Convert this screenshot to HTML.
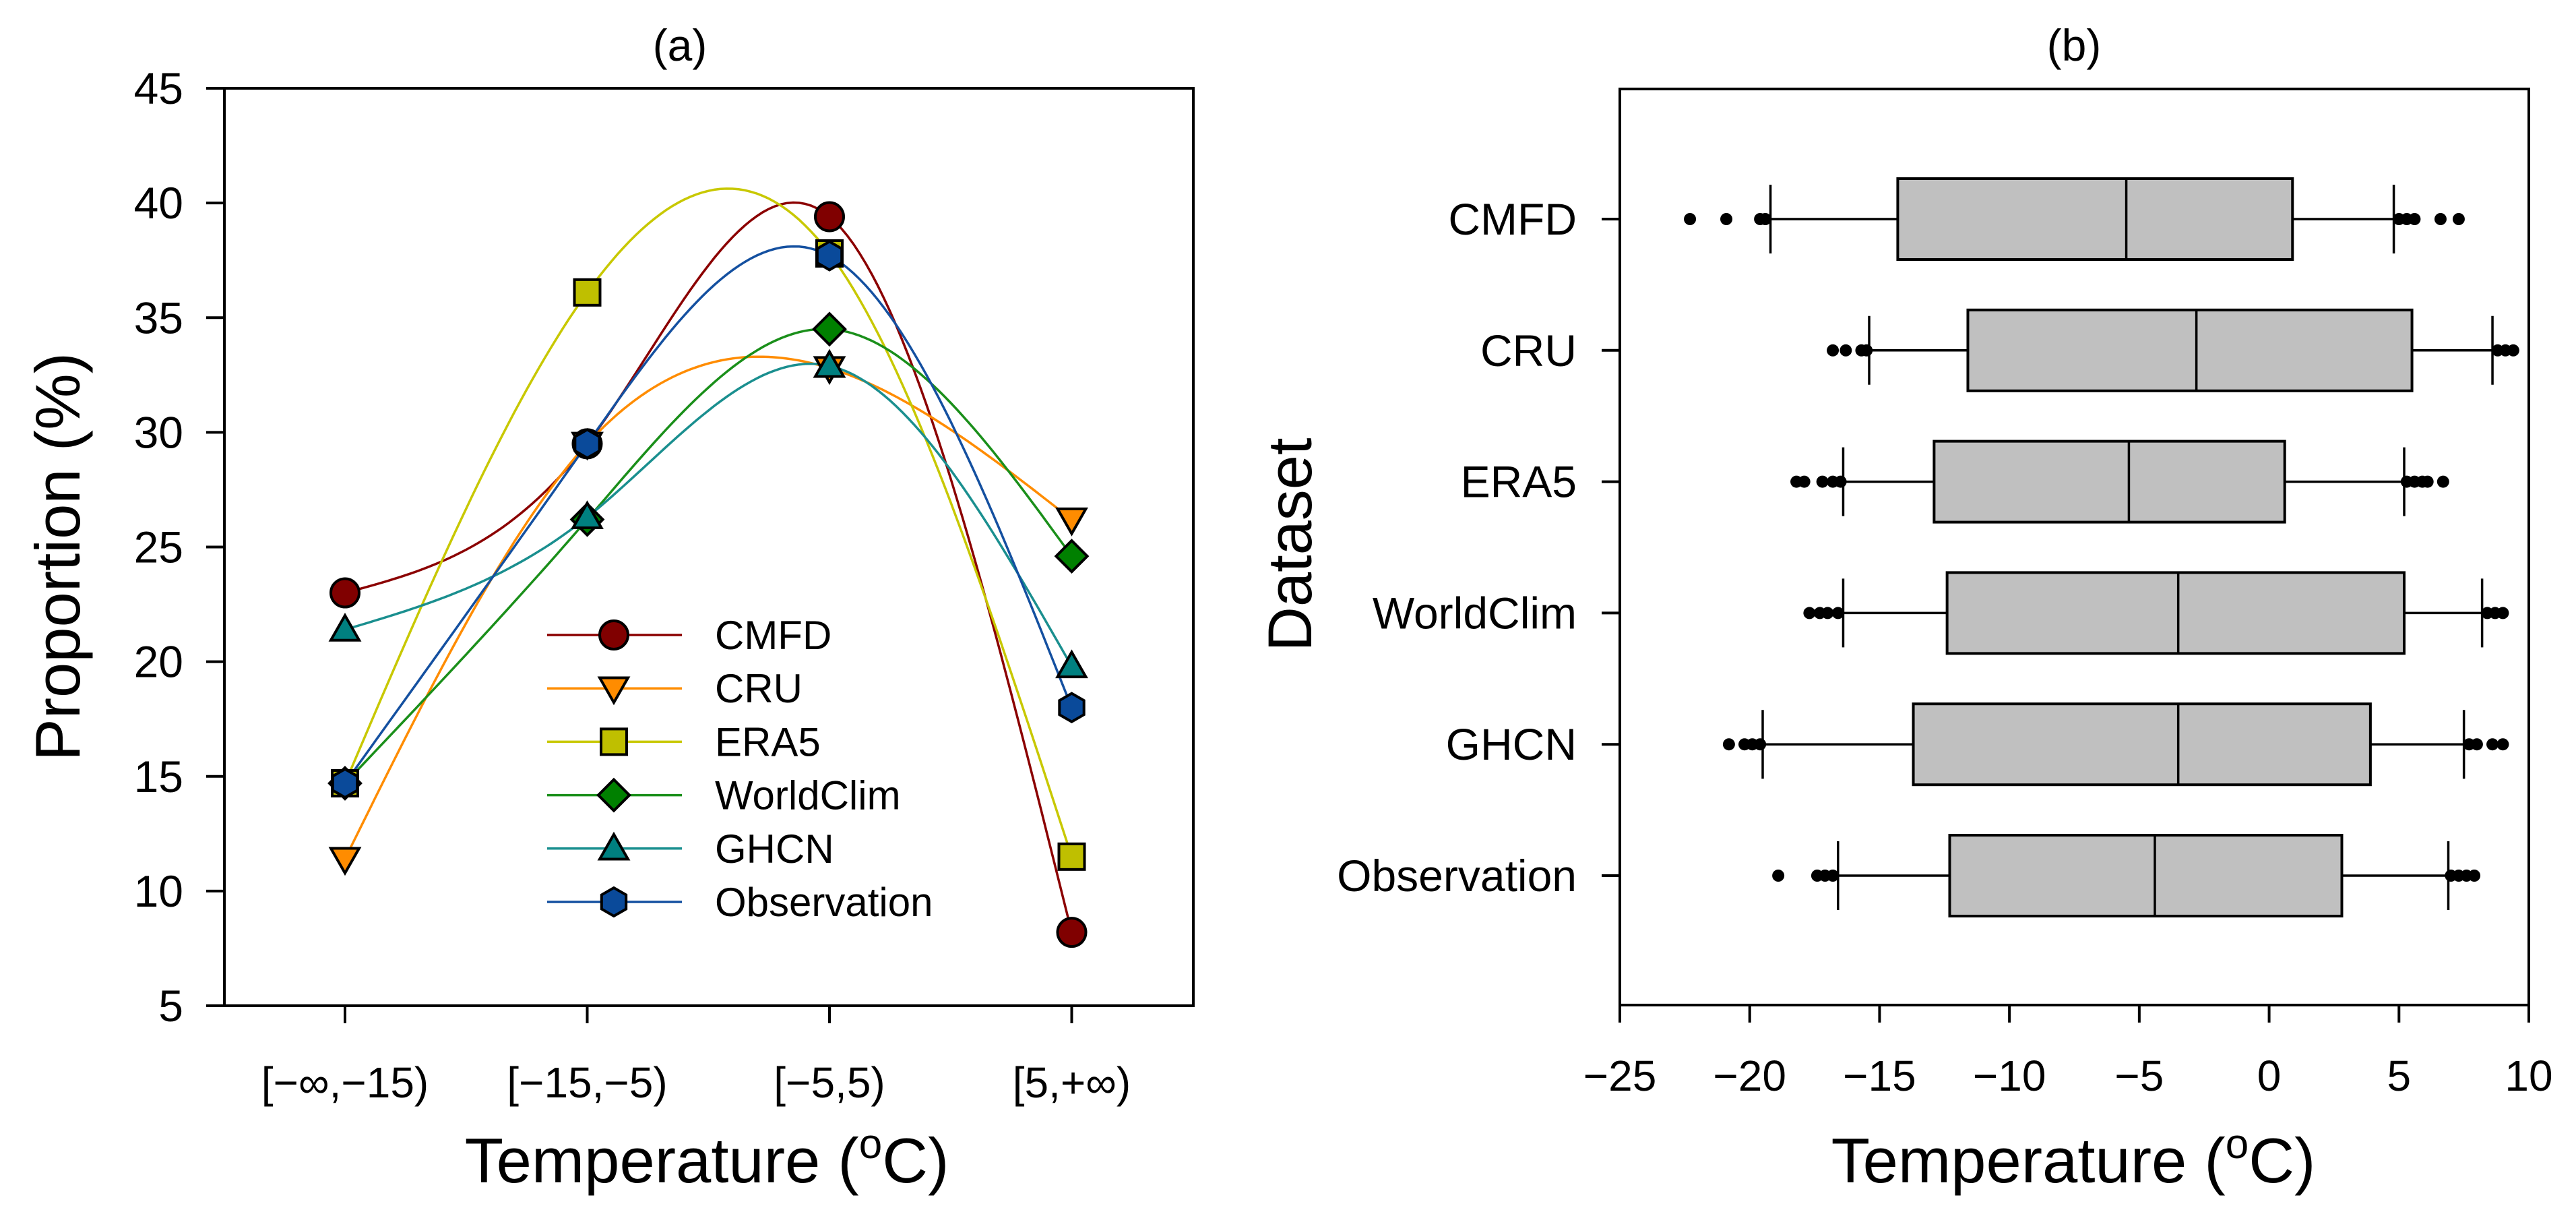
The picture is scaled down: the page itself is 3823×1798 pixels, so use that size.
<!DOCTYPE html>
<html><head><meta charset="utf-8"><style>
html,body{margin:0;padding:0;background:#fff;}
svg{display:block;font-family:"Liberation Sans",Arial,sans-serif;}
</style></head><body>
<svg id="fig" width="3823" height="1798" viewBox="0 0 3823 1798" xmlns="http://www.w3.org/2000/svg">
<g id="pa"></g>
<g id="pb"></g>
</svg>
<script>
// Panel (a) data
const catsA = ["[\u2212\u221e,\u221215)", "[\u221215,\u22125)", "[\u22125,5)", "[5,+\u221e)"];
const yTicksA = [5,10,15,20,25,30,35,40,45];
const seriesNames = ["CMFD","CRU","ERA5","WorldClim","GHCN","Observation"];
const cmfdVals = [23.0, 29.5, 39.4, 8.2];
const cruVals = [11.4, 29.5, 32.8, 26.2];
const era5Vals = [14.7, 36.1, 37.8, 11.5];
const worldclimVals = [14.7, 26.2, 34.5, 24.6];
const ghcnVals = [21.4, 26.3, 32.9, 19.8];
const obsVals = [14.7, 29.5, 37.7, 18.0];

// Panel (b) data
const datasetsB = ["CMFD","CRU","ERA5","WorldClim","GHCN","Observation"];
const xTicksB = [-25,-20,-15,-10,-5,0,5,10];
const whiskLo = [-19.2, -15.4, -16.4, -16.4, -19.5, -16.6];
const q1Vals = [-14.3, -11.6, -12.9, -12.4, -13.7, -12.3];
const medVals = [-5.5, -2.8, -5.4, -3.5, -3.5, -4.4];
const q3Vals = [0.9, 5.5, 0.6, 5.2, 3.9, 2.8];
const whiskHi = [4.8, 8.6, 5.2, 8.2, 7.5, 6.9];
const outliersLo = [[-22.3,-20.9,-19.6,-19.4],[-16.8,-16.3,-15.7,-15.5],[-18.2,-17.9,-17.2,-16.8,-16.5],[-17.7,-17.3,-17.0,-16.6],[-20.8,-20.2,-19.9,-19.6],[-18.9,-17.4,-17.1,-16.8]];
const outliersHi = [[5.0,5.3,5.6,6.6,7.3],[8.8,9.1,9.4],[5.3,5.6,5.9,6.1,6.7],[8.4,8.7,9.0],[7.7,8.0,8.6,9.0],[7.0,7.3,7.6,7.9]];

const NS="http://www.w3.org/2000/svg";
function mk(parent, tag, attrs, text){
  const e=document.createElementNS(NS,tag);
  for(const k in attrs) e.setAttribute(k,attrs[k]);
  if(text!==undefined) e.textContent=text;
  parent.appendChild(e); return e;
}

// ---------- Panel A ----------
const pa=document.getElementById('pa');
const AL=333, AR=1771, AT=131, AB=1492;
const yA=v=>AB-(v-5)/40*(AB-AT);
const xA=i=>512+i*359.5;
let t=mk(pa,'text',{x:1009,y:90,'font-size':66,'text-anchor':'middle'},'(a)');


yTicksA.forEach(v=>{
  const l=mk(pa,'line',{x1:306,x2:AL,y1:yA(v),y2:yA(v),stroke:'#000','stroke-width':4});
  
  
  const tx=mk(pa,'text',{x:272,y:yA(v)+23,'font-size':66,'text-anchor':'end'},String(v));
  
  
});
catsA.forEach((c,i)=>{
  const l=mk(pa,'line',{x1:xA(i),x2:xA(i),y1:AB,y2:AB+26,stroke:'#000','stroke-width':4});
  
  
  const tx=mk(pa,'text',{x:xA(i),y:1628,'font-size':64,'text-anchor':'middle'},c);
  
  
});
t=mk(pa,'text',{x:1049,y:1754,'font-size':94,'text-anchor':'middle'});


t.innerHTML='Temperature (<tspan dy="-36" font-size="62">o</tspan><tspan dy="36">C)</tspan>';
t=mk(pa,'text',{x:0,y:0,'font-size':94,'text-anchor':'middle',transform:'translate(118,826) rotate(-90)'},'Proportion (%)');



const colors=['#800000','#FF8C00','#BFBF00','#008000','#008080','#0A4A9A'];
const lineColors=['#8B0000','#FF8C00','#C8C800','#1A8F1A','#1A8F8F','#1450A0'];
const allVals=[cmfdVals,cruVals,era5Vals,worldclimVals,ghcnVals,obsVals];
const shapes=['circle','tridown','square','diamond','triup','hexagon'];

function spline(ys){
  const n=ys.length, M=new Array(n).fill(0);
  const a=[],b=[],c=[],d=[];
  for(let i=1;i<n-1;i++){a.push(1);b.push(4);c.push(1);d.push(6*(ys[i+1]-2*ys[i]+ys[i-1]));}
  const m=b.length;
  for(let i=1;i<m;i++){const w=a[i]/b[i-1];b[i]-=w*c[i-1];d[i]-=w*d[i-1];}
  const sol=new Array(m);
  sol[m-1]=d[m-1]/b[m-1];
  for(let i=m-2;i>=0;i--) sol[i]=(d[i]-c[i]*sol[i+1])/b[i];
  for(let i=0;i<m;i++) M[i+1]=sol[i];
  const pts=[];
  for(let i=0;i<n-1;i++){
    for(let s=0;s<=40;s++){
      const tt=s/40;
      const v=M[i]*(1-tt)**3/6+M[i+1]*tt**3/6+(ys[i]-M[i]/6)*(1-tt)+(ys[i+1]-M[i+1]/6)*tt;
      pts.push([xA(i+tt),yA(v)]);
    }
  }
  return pts;
}
function marker(g,shape,cx,cy,fill){
  const r=21; let e;
  const st={fill:fill,stroke:'#000','stroke-width':4};
  if(shape==='circle') e=mk(g,'circle',Object.assign({cx:cx,cy:cy,r:r},st));
  else if(shape==='square') e=mk(g,'rect',Object.assign({x:cx-r+2,y:cy-r+2,width:2*r-4,height:2*r-4},st));
  else {
    let p;
    if(shape==='tridown') p=[[cx-r,cy-r*0.75],[cx+r,cy-r*0.75],[cx,cy+r]];
    else if(shape==='triup') p=[[cx-r,cy+r*0.75],[cx+r,cy+r*0.75],[cx,cy-r]];
    else if(shape==='diamond') p=[[cx,cy-r*1.1],[cx+r*1.1,cy],[cx,cy+r*1.1],[cx-r*1.1,cy]];
    else {p=[];for(let k=0;k<6;k++){const a=Math.PI/6+k*Math.PI/3;p.push([cx+r*Math.cos(a),cy+r*Math.sin(a)]);}}
    e=mk(g,'polygon',Object.assign({points:p.map(q=>q.join(',')).join(' ')},st));
  }
  return e;
}
allVals.forEach((vals,si)=>{
  const g=mk(pa,'g',{});
  
  
  const pl=mk(g,'polyline',{points:spline(vals).map(p=>p[0].toFixed(1)+','+p[1].toFixed(1)).join(' '),fill:'none',stroke:lineColors[si],'stroke-width':3.5});
  
  
});
allVals.forEach((vals,si)=>{
  vals.forEach((v,i)=>{
    const m=marker(pa,shapes[si],xA(i),yA(v),colors[si]);
    
    
  });
});
const lg=mk(pa,'g',{});


seriesNames.forEach((nm,si)=>{
  const y=942+si*79.2;
  const ge=mk(lg,'g',{});
  
  
  mk(ge,'line',{x1:812,x2:1012,y1:y,y2:y,stroke:lineColors[si],'stroke-width':3.5});
  marker(ge,shapes[si],911,y,colors[si]);
  mk(ge,'text',{x:1061,y:y+21,'font-size':60},nm);
});
const frA=mk(pa,'rect',{x:AL,y:AT,width:AR-AL,height:AB-AT,fill:'none',stroke:'#000','stroke-width':4});



// ---------- Panel B ----------
const pb=document.getElementById('pb');
const BL=2404, BR=3753, BT=132, BB=1491;
const xB=v=>BL+(v+25)/35*(BR-BL);
const yB=i=>325+i*194.8;
t=mk(pb,'text',{x:3078,y:90,'font-size':66,'text-anchor':'middle'},'(b)');


xTicksB.forEach(v=>{
  const l=mk(pb,'line',{x1:xB(v),x2:xB(v),y1:BB,y2:BB+26,stroke:'#000','stroke-width':4});
  
  
  const tx=mk(pb,'text',{x:xB(v),y:1618,'font-size':64,'text-anchor':'middle'},(v<0?'\u2212':'')+Math.abs(v));
  
  
});
t=mk(pb,'text',{x:3077,y:1754,'font-size':94,'text-anchor':'middle'});


t.innerHTML='Temperature (<tspan dy="-36" font-size="62">o</tspan><tspan dy="36">C)</tspan>';
t=mk(pb,'text',{x:0,y:0,'font-size':92,'text-anchor':'middle',transform:'translate(1946,808) rotate(-90)'},'Dataset');


datasetsB.forEach((nm,i)=>{
  const y=yB(i);
  const l=mk(pb,'line',{x1:2377,x2:BL,y1:y,y2:y,stroke:'#000','stroke-width':4});
  
  
  const tx=mk(pb,'text',{x:2340,y:y+23,'font-size':66,'text-anchor':'end'},nm);
  
  
  const g=mk(pb,'g',{});
  
  
  const s={stroke:'#000','stroke-width':3.5};
  mk(g,'line',Object.assign({x1:xB(whiskLo[i]),x2:xB(q1Vals[i]),y1:y,y2:y},s));
  mk(g,'line',Object.assign({x1:xB(q3Vals[i]),x2:xB(whiskHi[i]),y1:y,y2:y},s));
  mk(g,'line',Object.assign({x1:xB(whiskLo[i]),x2:xB(whiskLo[i]),y1:y-51,y2:y+51},s));
  mk(g,'line',Object.assign({x1:xB(whiskHi[i]),x2:xB(whiskHi[i]),y1:y-51,y2:y+51},s));
  mk(g,'rect',{x:xB(q1Vals[i]),y:y-60,width:xB(q3Vals[i])-xB(q1Vals[i]),height:120,fill:'#C0C0C0',stroke:'#000','stroke-width':4});
  mk(g,'line',Object.assign({x1:xB(medVals[i]),x2:xB(medVals[i]),y1:y-60,y2:y+60},s));
  outliersLo[i].concat(outliersHi[i]).forEach(o=>{
    const c=mk(g,'circle',{cx:xB(o),cy:y,r:9,fill:'#000'});
    
    
  });
});
const frB=mk(pb,'rect',{x:BL,y:BT,width:BR-BL,height:BB-BT,fill:'none',stroke:'#000','stroke-width':4});


</script>
</body></html>
